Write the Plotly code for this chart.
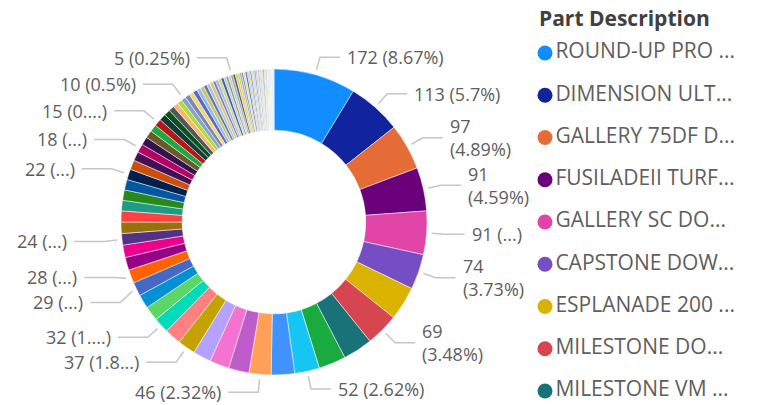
import math
import plotly.graph_objects as go

# Count of orders per part, sorted high -> low
counts = [172, 113, 97, 91, 91, 74, 71, 69, 62, 57, 52, 49,
          46, 43, 41, 38, 37, 35, 32, 31, 29, 29, 28, 27, 26,
          24, 24, 23, 22, 22, 22, 22, 20, 19, 18, 17, 16, 15, 15,
          14, 13, 12, 11, 10, 10,
          10, 9, 9, 8, 8, 7, 7, 7, 6, 6, 6, 6, 5, 5, 5, 5,
          5, 5, 4, 4, 4, 4, 4, 3, 3, 3, 3, 3, 3, 3,
          2, 2, 2, 2, 2, 2, 2, 2, 2, 2,
          1, 1, 1, 1, 1, 1, 1, 1, 1, 1, 1, 1, 1, 1, 1]

legend_names = ["ROUND-UP PRO ...", "DIMENSION ULT...", "GALLERY 75DF D...",
                "FUSILADEII TURF...", "GALLERY SC DO...", "CAPSTONE DOW...",
                "ESPLANADE 200 ...", "MILESTONE DO...", "MILESTONE VM ..."]
part_names = legend_names + [f"Part {i + 1}" for i in range(len(legend_names), len(counts))]

# which slices carry a data label, and the (truncated) label text shown
label_idx = [0, 1, 2, 3, 4, 5, 7, 10, 12, 16, 18, 21, 22, 25, 31, 34, 38, 44, 60]
label_text = ["172 (8.67%)", "113 (5.7%)", "97<br>(4.89%)", "91<br>(4.59%)", "91 (...)",
              "74<br>(3.73%)", "69<br>(3.48%)", "52 (2.62%)", "46 (2.32%)", "37 (1.8...)",
              "32 (1....)", "29 (...)", "28 (...)", "24 (...)", "22 (...)", "18 (...)",
              "15 (0....)", "10 (0.5%)", "5 (0.25%)"]

# Power BI default palette, then muted tail colours
base_colors = ["#118DFF", "#12239E", "#E66C37", "#6B007B", "#E044A7", "#744EC2", "#D9B300",
               "#D64550", "#197278", "#1AAB40", "#15C6F4", "#4092FF", "#FFA058", "#BE5DC9",
               "#F472D0", "#B5A1FF", "#C4A200", "#FF8080", "#00DBBC", "#5BD667", "#0091D5",
               "#4668C5", "#FF6300", "#99008A", "#EC008C", "#533285", "#99700A", "#FF4141",
               "#1F9A85", "#25891C", "#0057A2", "#002050", "#C94F0F", "#450F54", "#B60064",
               "#34124F", "#6A5A29", "#1AAB40", "#BA141A", "#0C3D37", "#0B511F"]
tail_colors = ["#4C5A5A", "#FFB570", "#A4E22F", "#8DA0C9", "#7A8AB5", "#F5D76E", "#4F6BD0",
               "#9FB6E0", "#C7C27A", "#5E7C9A", "#B0C4DE", "#E0C080", "#6F86C8", "#A8B8C8",
               "#D4D08A", "#3A5FA8", "#C0C8D0", "#8E9E6A", "#BFC9D6", "#9AA6B2"]
colors = base_colors + [tail_colors[i % len(tail_colors)]
                        for i in range(len(counts) - len(base_colors))]

W, H = 764, 405
CX, CY, R = 274, 222, 153
FONT = "Segoe UI, Open Sans, sans-serif"
LABEL_COLOR = "#605E5C"
LINE_H = 22

fig = go.Figure()

fig.add_trace(go.Pie(
    values=counts, labels=part_names, sort=False, direction="clockwise", rotation=0,
    hole=0.6, textinfo="none", showlegend=False, hoverinfo="label+value+percent",
    marker=dict(colors=colors, line=dict(color="white", width=0.5)),
    domain=dict(x=[(CX - R) / W, (CX + R) / W], y=[1 - (CY + R) / H, 1 - (CY - R) / H]),
))

# data labels with leader lines, placed from each slice's mid angle
total = sum(counts)
cum = [sum(counts[:i]) for i in range(len(counts))]
items = []
for idx, txt in zip(label_idx, label_text):
    th = math.radians(360 * (cum[idx] + counts[idx] / 2) / total)
    s, c = math.sin(th), math.cos(th)
    x0, y0 = CX + (R + 5) * s, CY - (R + 5) * c
    x1, y1 = CX + (R + 18) * s, CY - (R + 18) * c
    nlines = txt.count("<br>") + 1
    items.append(dict(x0=x0, y0=y0, x1=x1, y=y1, txt=txt, h=nlines * LINE_H,
                      right=s >= 0))

# spread overlapping labels apart on each side
for side in (True, False):
    group = sorted([it for it in items if it["right"] == side], key=lambda it: it["y"])
    for _ in range(60):
        for a, b in zip(group, group[1:]):
            overlap = (a["y"] + a["h"] / 2 + 3) - (b["y"] - b["h"] / 2)
            if overlap > 0:
                a["y"] -= overlap / 2
                b["y"] += overlap / 2

lx, ly = [], []
for it in items:
    d = 1 if it["right"] else -1
    x2 = it["x1"] + d * (20 if it["right"] else 30)
    lx += [it["x0"], it["x1"], x2, None]
    ly += [it["y0"], it["y"], it["y"], None]
    fig.add_annotation(x=x2 + d * 5, y=it["y"], xref="x", yref="y", text=it["txt"],
                       showarrow=False, xanchor="left" if it["right"] else "right",
                       yanchor="middle", align="left" if it["right"] else "right",
                       font=dict(family=FONT, size=18, color=LABEL_COLOR))

fig.add_trace(go.Scatter(x=lx, y=ly, mode="lines", hoverinfo="skip", showlegend=False,
                         line=dict(color="#C8C6C4", width=1.5)))

# legend (first nine entries visible, as in the report)
LEG_X, LEG_Y0, LEG_DY = 545, 53, 42.25
fig.add_trace(go.Scatter(
    x=[LEG_X] * len(legend_names),
    y=[LEG_Y0 + i * LEG_DY for i in range(len(legend_names))],
    mode="markers+text", text=legend_names, textposition="middle right",
    marker=dict(size=15, color=base_colors[:len(legend_names)]),
    textfont=dict(family=FONT, size=21, color=LABEL_COLOR),
    hoverinfo="skip", showlegend=False, cliponaxis=False,
))
fig.add_annotation(x=537, y=18, xref="x", yref="y", text="<b>Part Description</b>",
                   showarrow=False, xanchor="left", yanchor="middle",
                   font=dict(family=FONT, size=21, color="#404040"))

fig.update_layout(
    width=W, height=H, margin=dict(l=0, r=0, t=0, b=0),
    paper_bgcolor="white", plot_bgcolor="rgba(0,0,0,0)",
    xaxis=dict(range=[0, W], visible=False, fixedrange=True),
    yaxis=dict(range=[H, 0], visible=False, fixedrange=True),
)

fig.write_html("out.html", config={"displayModeBar": False},
               post_script="document.body.style.margin='0';")
